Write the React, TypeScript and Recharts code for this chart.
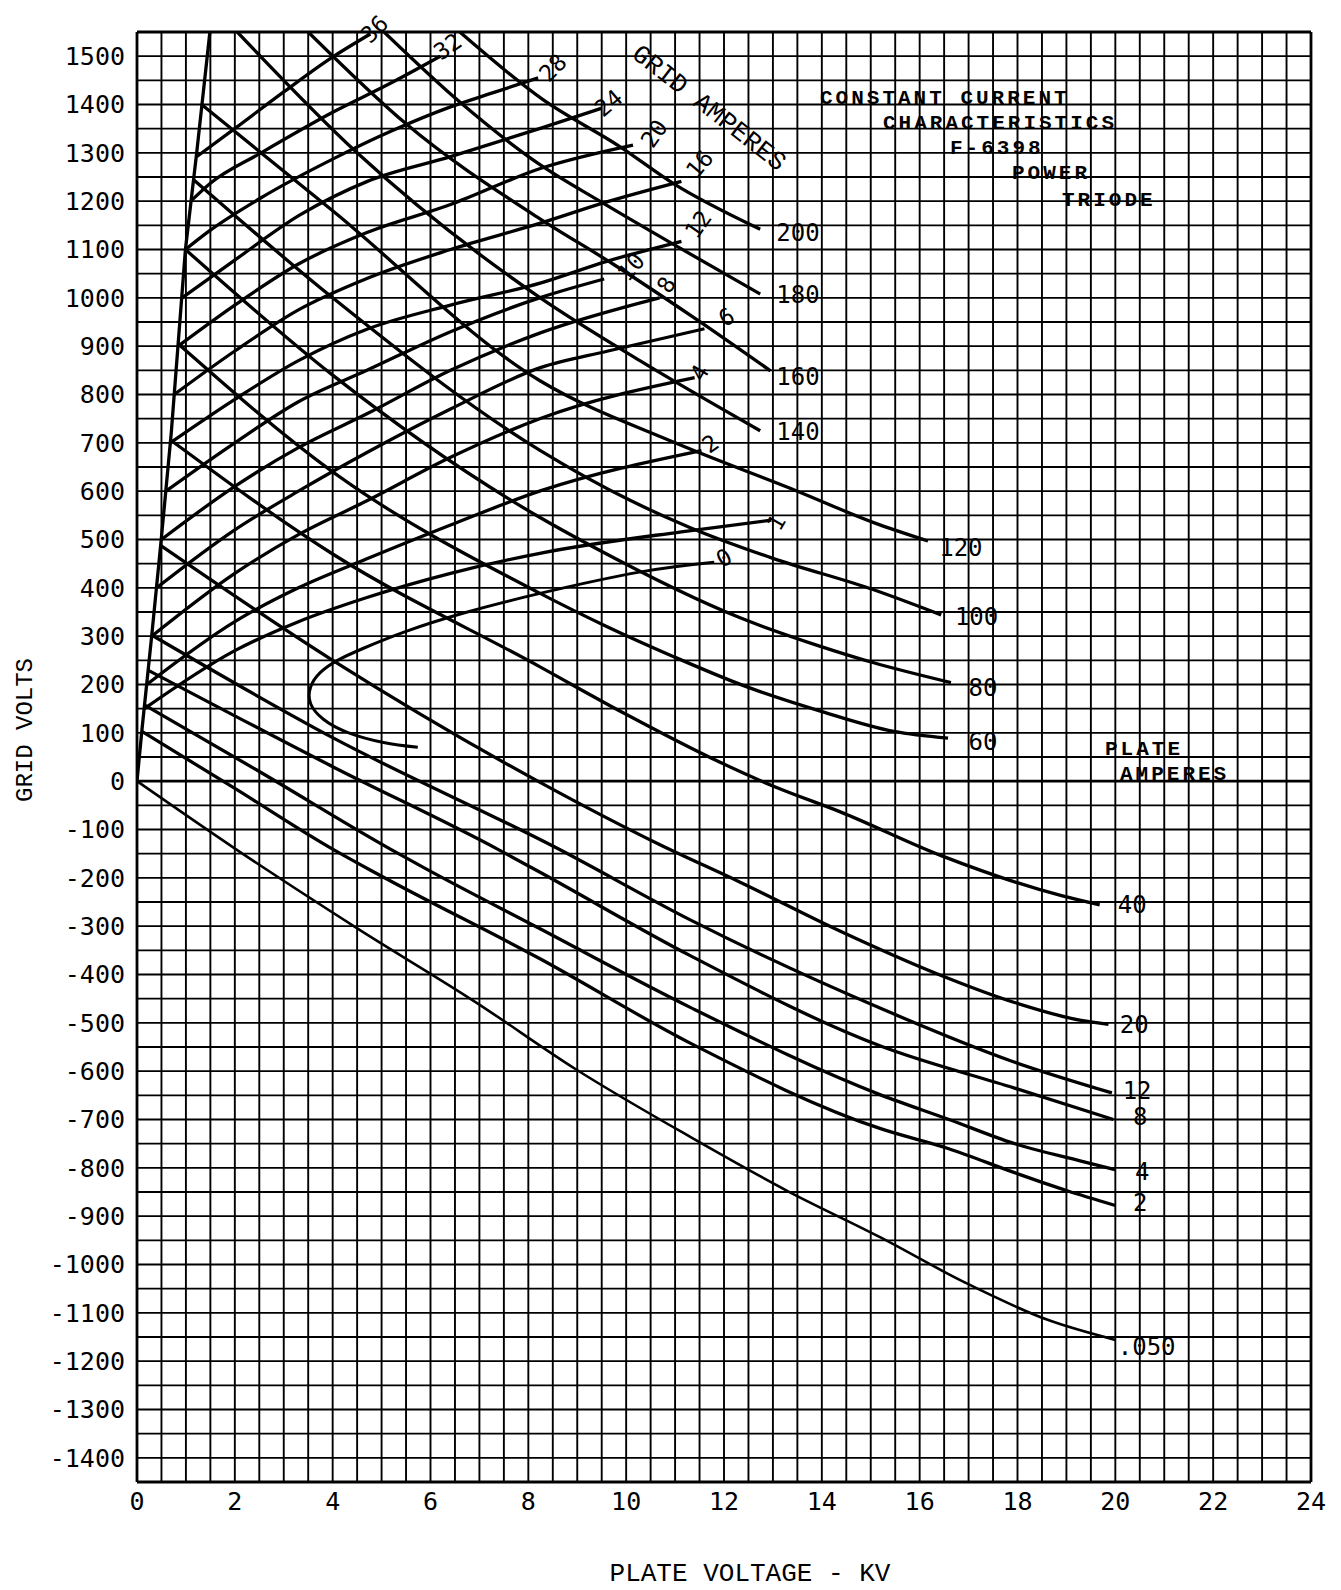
import React from 'react';
import { LineChart, Line, XAxis, YAxis, CartesianGrid, ReferenceLine, ReferenceDot } from 'recharts';

type Pt = [number, number];

// plate voltage (kV) vs grid volts, constant plate-current lines
const plate200: Pt[] = [[6.6, 1550], [8.3, 1410], [9.87, 1313], [10.96, 1237], [12.74, 1142]];
const plate180: Pt[] = [[5.05, 1550], [6.6, 1405], [8.23, 1276], [9.46, 1200], [10.96, 1111], [12.74, 1008]];
const plate160: Pt[] = [[3.5, 1550], [5.5, 1360], [8.23, 1164], [9.73, 1070], [11.37, 960], [12.95, 849]];
const plate140: Pt[] = [[2.05, 1550], [4.5, 1300], [8.23, 1001], [10.28, 870], [12.74, 725]];
const plate120: Pt[] = [[1.32, 1400], [4, 1180], [8.23, 829], [11, 700], [13.5, 600], [15.06, 535], [16.17, 497]];
const plate100: Pt[] = [[1.15, 1245], [4, 1000], [8.23, 685], [10.08, 581], [11.3, 525], [13.0, 461], [15.06, 396], [16.44, 344]];
const plate80: Pt[] = [[0.99, 1100], [4, 840], [8.23, 546], [9.32, 485], [12.33, 338], [13.97, 279], [15.06, 245], [16.64, 204]];
const plate60: Pt[] = [[0.84, 905], [4, 640], [8.23, 389], [9.6, 320], [10.96, 258], [12.47, 195], [13.97, 145], [15.47, 103], [16.58, 89]];
const plate40: Pt[] = [[0.67, 707], [4, 470], [8.23, 237], [9.93, 142], [11.92, 39], [13.0, -10], [14.39, -64], [16.44, -154], [18.9, -237], [19.68, -256]];
const plate20: Pt[] = [[0.48, 488], [4, 250], [8.23, -2], [10.66, -130], [12.33, -209], [14.39, -311], [16.44, -402], [17.94, -458], [19.3, -495], [19.86, -503]];
const plate12: Pt[] = [[0.29, 303], [4, 90], [8.61, -140], [11.31, -287], [15.2, -470], [17.9, -580], [19.93, -645]];
const plate8: Pt[] = [[0.22, 230], [4, 30], [7.36, -140], [8.23, -188], [11.31, -361], [15.2, -548], [17.94, -635], [19.96, -700]];
const plate4: Pt[] = [[0.15, 158], [2.5, 20], [5.17, -140], [5.9, -181], [8.23, -305], [11.31, -468], [15.2, -649], [16.6, -700], [17.94, -750], [19.3, -786], [20, -804]];
const plate2: Pt[] = [[0.1, 103], [2, -15], [3.99, -140], [4.88, -190], [8.23, -367], [11.31, -542], [15.2, -719], [16.58, -760], [17.94, -810], [19, -847], [20, -878]];
const plate050: Pt[] = [[0, 0], [2.01, -140], [4.51, -305], [6.92, -457], [8.97, -596], [11.31, -736], [13.3, -848], [15.2, -944], [16.9, -1036], [18.63, -1115], [20, -1156]];

// constant grid-current lines
const grid36: Pt[] = [[1.22, 1292], [2.01, 1351], [3.0, 1426], [3.95, 1495], [4.77, 1546]];
const grid32: Pt[] = [[1.1, 1200], [1.5, 1237], [2.52, 1299], [4.02, 1385], [5.2, 1445], [6.2, 1500]];
const grid28: Pt[] = [[0.99, 1100], [1.5, 1140], [2.52, 1206], [4.02, 1288], [5.2, 1345], [6.41, 1395], [7.3, 1425], [8.2, 1455]];
const grid24: Pt[] = [[0.92, 1000], [1.97, 1076], [3.34, 1172], [4.71, 1241], [6.41, 1292], [8.26, 1351], [9.49, 1392]];
const grid20: Pt[] = [[0.84, 900], [2, 985], [3.3, 1070], [4.7, 1135], [6.41, 1193], [8.26, 1268], [10.14, 1316]];
const grid16: Pt[] = [[0.76, 800], [2, 890], [3.3, 975], [4.7, 1040], [6.41, 1100], [8.26, 1155], [9.62, 1199], [11.13, 1241]];
const grid12: Pt[] = [[0.68, 700], [2, 790], [3.3, 870], [4.7, 935], [6.41, 985], [8.26, 1031], [9.62, 1076], [11.13, 1117]];
const grid10: Pt[] = [[0.59, 600], [2, 700], [3.3, 785], [4.7, 850], [6.41, 930], [8.26, 1001], [9.55, 1039]];
const grid8: Pt[] = [[0.5, 500], [2, 610], [3.3, 690], [4.7, 760], [6.41, 850], [8.26, 928], [10.68, 1000]];
const grid6: Pt[] = [[0.4, 400], [2, 520], [3.3, 600], [4.7, 680], [6.41, 770], [8.26, 856], [9.63, 890], [11.6, 936]];
const grid4: Pt[] = [[0.3, 300], [2, 430], [3.3, 510], [4.7, 580], [6.41, 670], [8.26, 751], [11.4, 835]];
const grid2: Pt[] = [[0.2, 200], [2, 330], [3.3, 400], [4.7, 460], [6.41, 530], [8.26, 601], [11.54, 684]];
const grid1: Pt[] = [[0.15, 150], [2, 270], [3.3, 330], [4.7, 380], [6.41, 430], [8.26, 472], [11.13, 516], [12.97, 540]];
const grid0: Pt[] = [[5.74, 70], [5.04, 80], [4.3, 101], [3.81, 128], [3.55, 160], [3.55, 195], [3.75, 225], [4.1, 250], [4.63, 275], [5.5, 310], [6.68, 348], [8.26, 389], [10.3, 433], [11.8, 453]];

// left boundary line
const boundary: Pt[] = [[0, 0], [0.1, 105], [0.3, 300], [0.5, 505], [0.7, 720], [0.99, 1100], [1.22, 1300], [1.49, 1550]];

const plateCurves = [plate200, plate180, plate160, plate140, plate120, plate100, plate80, plate60, plate40, plate20, plate12, plate8, plate4, plate2];
const gridCurves = [grid36, grid32, grid28, grid24, grid20, grid16, grid12, grid10, grid8, grid6, grid4, grid2, grid1];

// curve labels: text, kV, volts
const plateLabels: [string, number, number][] = [
  ['200', 13.07, 1135], ['180', 13.07, 1006], ['160', 13.07, 838], ['140', 13.07, 723],
  ['120', 16.4, 483], ['100', 16.72, 341], ['80', 17.0, 194], ['60', 17.0, 82],
  ['40', 20.05, -255], ['20', 20.09, -504], ['12', 20.15, -640], ['8', 20.36, -694],
  ['4', 20.4, -807], ['2', 20.36, -872], ['.050', 20.05, -1169],
];
const gridLabels: [string, number, number, number][] = [
  ['36', 4.85, 1556, -45], ['32', 6.35, 1520, -35], ['28', 8.5, 1476, -45], ['24', 9.64, 1403, -40],
  ['20', 10.57, 1340, -55], ['16', 11.5, 1277, -50], ['12', 11.47, 1152, -55], ['10', 10.1, 1064, -50],
  ['8', 10.82, 1027, -60], ['6', 12.05, 960, -30], ['4', 11.5, 845, -60], ['2', 11.72, 698, -35],
  ['1', 13.07, 535, -60], ['0', 12.0, 462, -30],
];

const xLabels = [0, 2, 4, 6, 8, 10, 12, 14, 16, 18, 20, 22, 24];
const yLabels = [1500, 1400, 1300, 1200, 1100, 1000, 900, 800, 700, 600, 500, 400, 300, 200, 100, 0,
  -100, -200, -300, -400, -500, -600, -700, -800, -900, -1000, -1100, -1200, -1300, -1400];
const xGrid = Array.from({ length: 49 }, (_, i) => i * 0.5);
const yGrid = Array.from({ length: 61 }, (_, i) => -1450 + i * 50);

const rows = (pts: Pt[]) => pts.map(([kv, v]) => ({ kv, v }));

const TICK_FONT = '"DejaVu Sans Mono", monospace';
const TYPE_FONT = '"Liberation Mono", monospace';

const hText = (txt: string) => (p: any) => (
  <text x={p.cx} y={p.cy} dy="0.35em" textAnchor="start" fontFamily={TICK_FONT} fontSize={24} fill="#000">{txt}</text>
);
const rText = (txt: string, angle: number) => (p: any) => (
  <text x={p.cx} y={p.cy} dy="0.35em" textAnchor="middle" fontFamily={TICK_FONT} fontSize={23} fill="#000"
    transform={`rotate(${angle} ${p.cx} ${p.cy})`}>{txt}</text>
);

const CURVE_W = 3.3;

export default function App() {
  return (
    <div style={{ position: 'absolute', left: 0, top: 0, width: 1341, height: 1590, background: '#fff' }}>
      <LineChart width={1341} height={1590} margin={{ top: 32, right: 30, bottom: 78, left: 77 }}>
        <CartesianGrid stroke="#000" strokeWidth={1.9} horizontalValues={yGrid} verticalValues={xGrid} />
        <XAxis type="number" dataKey="kv" domain={[0, 24]} ticks={xGrid} interval={0} allowDataOverflow
          tickFormatter={(v: number) => (xLabels.includes(v) ? String(v) : '')}
          tickLine={false} tickSize={0} tickMargin={10} height={30}
          axisLine={{ stroke: '#000', strokeWidth: 2.8 }}
          tick={{ fontFamily: TICK_FONT, fontSize: 25, fill: '#000' }} />
        <YAxis type="number" domain={[-1450, 1550]} ticks={yGrid} interval={0} allowDataOverflow width={60}
          tickFormatter={(v: number) => (yLabels.includes(v) ? String(v) : '')}
          tickLine={false} tickSize={0} tickMargin={12}
          axisLine={{ stroke: '#000', strokeWidth: 2.8 }}
          tick={{ fontFamily: TICK_FONT, fontSize: 25, fill: '#000' }} />
        <ReferenceLine x={24} stroke="#000" strokeWidth={2.8} />
        <ReferenceLine y={1550} stroke="#000" strokeWidth={2.8} />
        <ReferenceLine y={0} stroke="#000" strokeWidth={2.8} />

        <Line data={rows(boundary)} dataKey="v" type="linear" stroke="#000" strokeWidth={CURVE_W} dot={false} isAnimationActive={false} />
        {plateCurves.map((c, i) => (
          <Line key={'p' + i} data={rows(c)} dataKey="v" type="monotone" stroke="#000" strokeWidth={CURVE_W} dot={false} isAnimationActive={false} />
        ))}
        <Line data={rows(plate050)} dataKey="v" type="monotone" stroke="#000" strokeWidth={2.6} dot={false} isAnimationActive={false} />
        {gridCurves.map((c, i) => (
          <Line key={'g' + i} data={rows(c)} dataKey="v" type="monotone" stroke="#000" strokeWidth={CURVE_W} dot={false} isAnimationActive={false} />
        ))}
        <Line data={rows(grid0)} dataKey="v" type="natural" stroke="#000" strokeWidth={3} dot={false} isAnimationActive={false} />

        {plateLabels.map(([t, x, y]) => (
          <ReferenceDot key={'pl' + t} x={x} y={y} r={0} ifOverflow="visible" shape={hText(t)} />
        ))}
        {gridLabels.map(([t, x, y, a]) => (
          <ReferenceDot key={'gl' + t} x={x} y={y} r={0} ifOverflow="visible" shape={rText(t, a)} />
        ))}
      </LineChart>
      <svg width={1341} height={1590} style={{ position: 'absolute', left: 0, top: 0, pointerEvents: 'none' }}>
        <g fontFamily={TYPE_FONT} fontSize={21} fontWeight={700} letterSpacing={3} fill="#000">
          <text x={820} y={104}>CONSTANT CURRENT</text>
          <text x={883} y={129}>CHARACTERISTICS</text>
          <text x={950} y={154}>F-6398</text>
          <text x={1012} y={179}>POWER</text>
          <text x={1062} y={206}>TRIODE</text>
          <text x={1105} y={755}>PLATE</text>
          <text x={1120} y={780}>AMPERES</text>
        </g>
        <g fontFamily={TYPE_FONT} fontSize={26} fill="#000">
          <text x={710} y={107} dy="0.35em" textAnchor="middle" transform="rotate(38 710 107)">GRID AMPERES</text>
          <text x={24} y={730} dy="0.35em" textAnchor="middle" fontSize={24} transform="rotate(-90 24 730)">GRID  VOLTS</text>
          <text x={750} y={1581} textAnchor="middle">PLATE VOLTAGE - KV</text>
        </g>
      </svg>
    </div>
  );
}
